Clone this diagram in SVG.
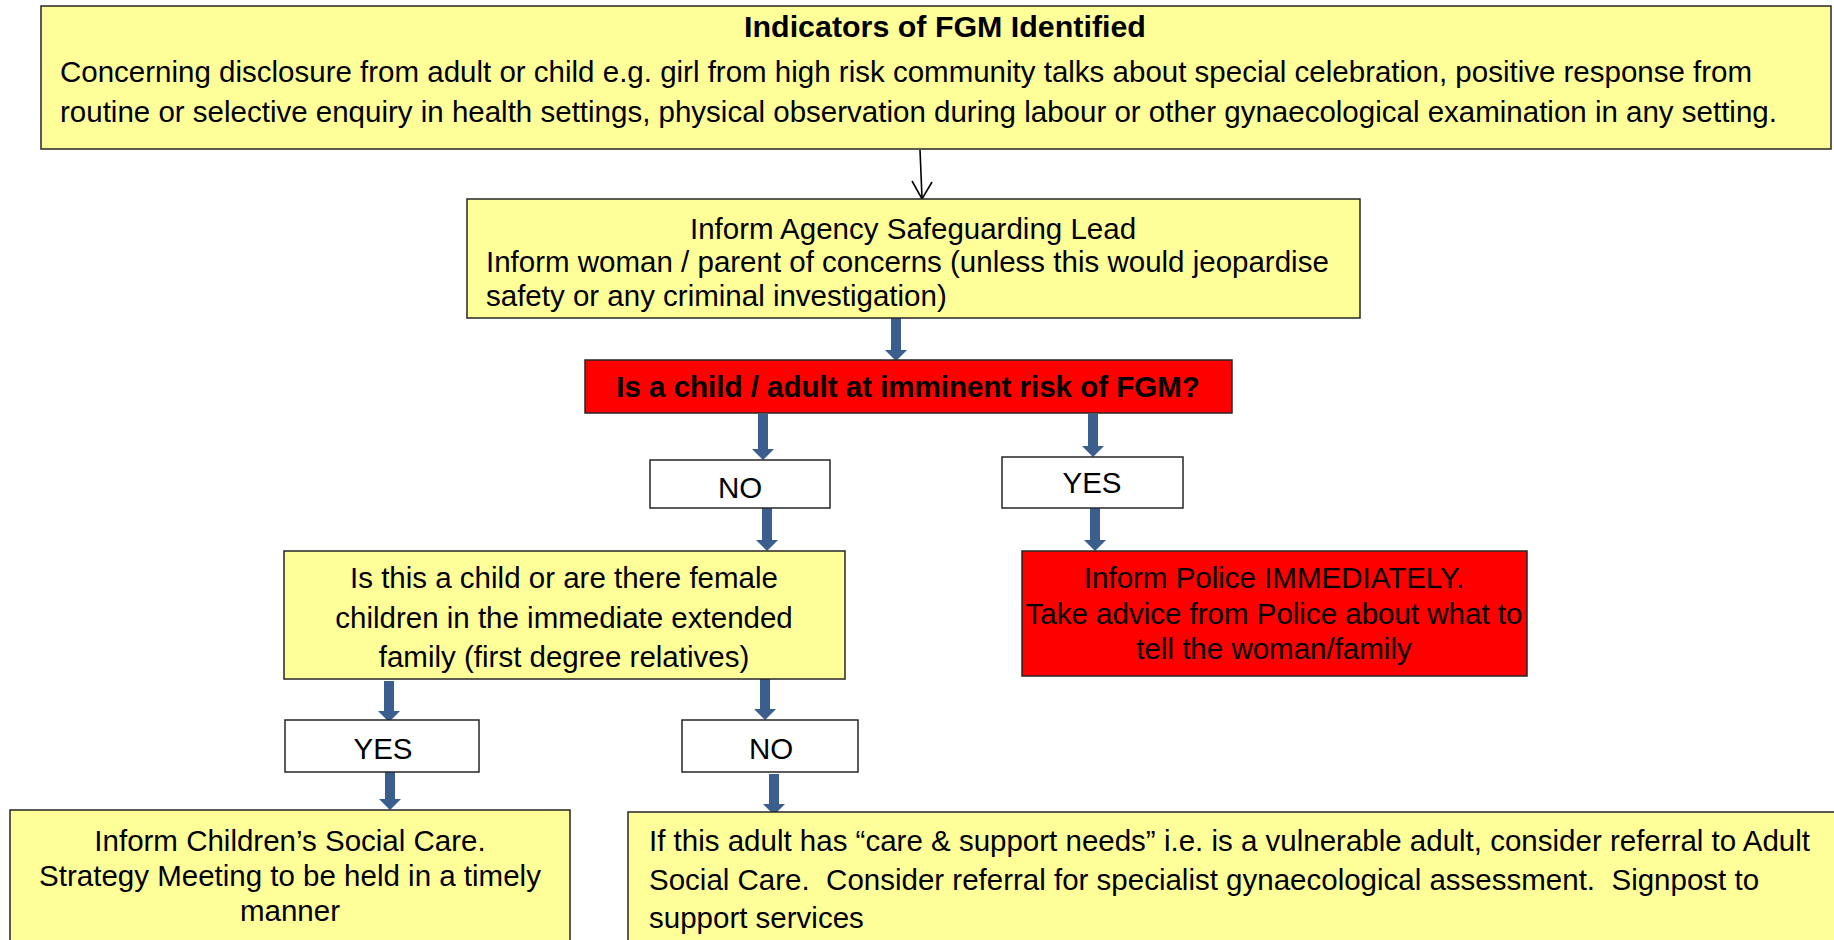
<svg xmlns="http://www.w3.org/2000/svg" width="1834" height="940" viewBox="0 0 1834 940">
<style>
.box{stroke:#262626;stroke-width:1.5}
.y{fill:#FFFF99}
.r{fill:#FF0000}
.w{fill:#FFFFFF}
text{font-family:"Liberation Sans",Arial,sans-serif;font-size:29.5px;fill:#000;white-space:pre}
.c{text-anchor:middle}
.b{font-weight:bold}
.t{font-size:30.4px}
.arr{fill:#3A5F8F}
</style>
<rect width="1834" height="940" fill="#FFFFFF"/>
<g id="connectors">
<line x1="920" y1="150" x2="922" y2="198" stroke="#000" stroke-width="1.6"/>
<polyline points="912,181 922,199 932,182" fill="none" stroke="#000" stroke-width="1.6"/>
<path class="arr" d="M891 318H901V350H907L896 361L885 350H891Z"/>
<path class="arr" d="M758 414H768V449H774L763 460L752 449H758Z"/>
<path class="arr" d="M1088 414H1098V446H1104L1093 457L1082 446H1088Z"/>
<path class="arr" d="M762 508H772V540H778L767 551L756 540H762Z"/>
<path class="arr" d="M1090 508H1100V540H1106L1095 551L1084 540H1090Z"/>
<path class="arr" d="M384 681H394V711H400L389 722L378 711H384Z"/>
<path class="arr" d="M760 679H770V709H776L765 720L754 709H760Z"/>
<path class="arr" d="M385 772H395V799H401L390 810L379 799H385Z"/>
<path class="arr" d="M769 774H779V804H785L774 815L763 804H769Z"/>
</g>
<g id="n-indicators">
<rect class="box y" x="41" y="6" width="1790" height="143"/>
<text class="c b t" x="945" y="37">Indicators of FGM Identified</text>
<text x="60" y="82">Concerning disclosure from adult or child e.g. girl from high risk community talks about special celebration, positive response from</text>
<text x="60" y="122">routine or selective enquiry in health settings, physical observation during labour or other gynaecological examination in any setting.</text>
</g>
<g id="n-inform-lead">
<rect class="box y" x="467" y="199" width="893" height="119"/>
<text class="c" x="913" y="239">Inform Agency Safeguarding Lead</text>
<text x="486" y="272">Inform woman / parent of concerns (unless this would jeopardise</text>
<text x="486" y="306">safety or any criminal investigation)</text>
</g>
<g id="n-imminent">
<rect class="box r" x="585" y="360" width="647" height="53"/>
<text class="c b" x="908" y="397">Is a child / adult at imminent risk of FGM?</text>
</g>
<g id="n-no1">
<rect class="box w" x="650" y="460" width="180" height="48"/>
<text class="c" x="740" y="498">NO</text>
</g>
<g id="n-yes1">
<rect class="box w" x="1002" y="457" width="181" height="51"/>
<text class="c" x="1092" y="493">YES</text>
</g>
<g id="n-child-question">
<rect class="box y" x="284" y="551" width="561" height="128"/>
<text class="c" x="564" y="588">Is this a child or are there female</text>
<text class="c" x="564" y="628">children in the immediate extended</text>
<text class="c" x="564" y="667">family (first degree relatives)</text>
</g>
<g id="n-police">
<rect class="box r" x="1022" y="551" width="505" height="125"/>
<text class="c" x="1274" y="588">Inform Police IMMEDIATELY.</text>
<text class="c" x="1274" y="624">Take advice from Police about what to</text>
<text class="c" x="1274" y="659">tell the woman/family</text>
</g>
<g id="n-yes2">
<rect class="box w" x="285" y="720" width="194" height="52"/>
<text class="c" x="383" y="759">YES</text>
</g>
<g id="n-no2">
<rect class="box w" x="682" y="720" width="176" height="52"/>
<text class="c" x="771" y="759">NO</text>
</g>
<g id="n-childrens-care">
<rect class="box y" x="10" y="810" width="560" height="140"/>
<text class="c" x="290" y="851">Inform Children’s Social Care.</text>
<text class="c" x="290" y="886">Strategy Meeting to be held in a timely</text>
<text class="c" x="290" y="921">manner</text>
</g>
<g id="n-adult-care">
<rect class="box y" x="628" y="812" width="1220" height="140"/>
<text x="649" y="851">If this adult has “care &amp; support needs” i.e. is a vulnerable adult, consider referral to Adult</text>
<text x="649" y="890">Social Care.  Consider referral for specialist gynaecological assessment.  Signpost to</text>
<text x="649" y="928">support services</text>
</g>
</svg>
